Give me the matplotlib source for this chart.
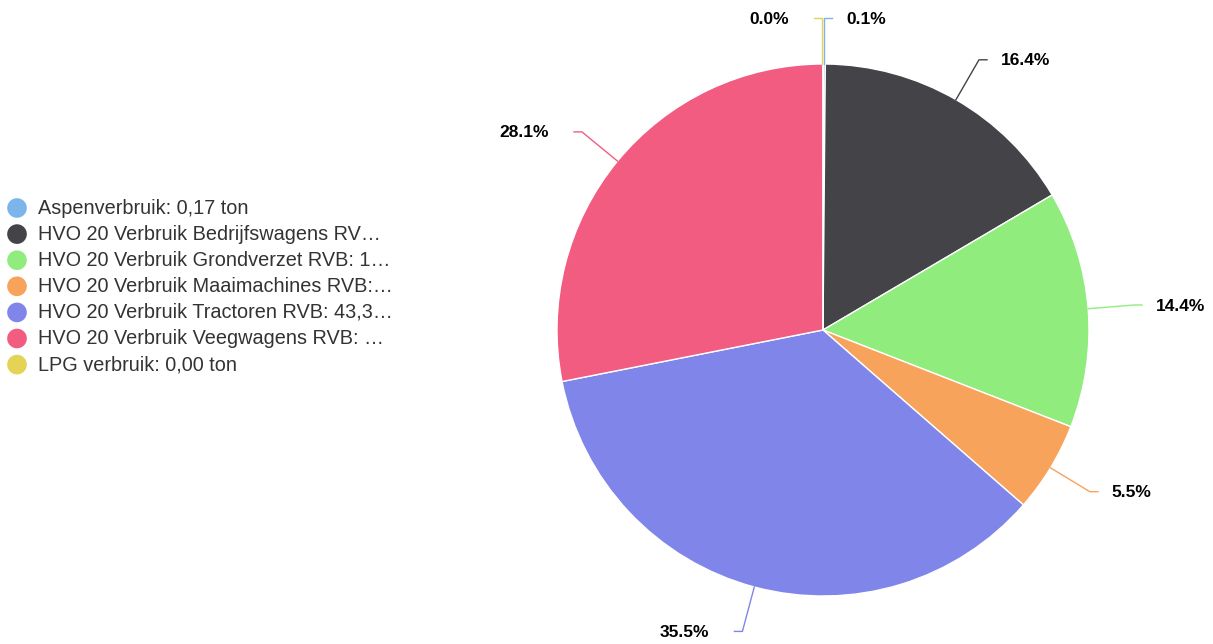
import numpy as np
import matplotlib
matplotlib.use("Agg")
import matplotlib.pyplot as plt

plt.rcParams["font.family"] = ["Liberation Sans", "DejaVu Sans"]

# data (ton), in clockwise order from the top
legend_labels = [
    "Aspenverbruik: 0,17 ton",
    "HVO 20 Verbruik Bedrijfswagens RV\u2026",
    "HVO 20 Verbruik Grondverzet RVB: 1\u2026",
    "HVO 20 Verbruik Maaimachines RVB:\u2026",
    "HVO 20 Verbruik Tractoren RVB: 43,3\u2026",
    "HVO 20 Verbruik Veegwagens RVB: \u2026",
    "LPG verbruik: 0,00 ton",
]
values = [0.17, 20.0, 17.57, 6.71, 43.3, 34.3, 0.0]
colors = ["#7cb5ec", "#434348", "#90ed7d", "#f7a35c", "#8085e9", "#f15c80", "#e4d354"]

W, H = 1213, 644
fig = plt.figure(figsize=(W / 100, H / 100), dpi=100)
ax = fig.add_axes([0, 0, 1, 1])

cx, cy, r = 823, H - 330, 266
ax.pie(values, colors=colors, startangle=90, counterclock=False,
       center=(cx, cy), radius=r,
       wedgeprops=dict(edgecolor="white", linewidth=1))
ax.set_xlim(0, W)
ax.set_ylim(0, H)
ax.set_aspect("equal")
ax.axis("off")

# data labels with connectors
total = sum(values)
cum = 0.0
for v, c in zip(values, colors):
    frac = v / total
    mid = cum + frac / 2
    cum += frac
    ang = mid * 2 * np.pi  # clockwise from top
    sx, sy = np.sin(ang), np.cos(ang)
    right = mid < 0.5
    if frac < 0.005:
        # tiny slices: go straight up
        ex, ey = cx + (1 if right else -1), cy + r
        bx, by = ex, cy + r + 46
    else:
        ex, ey = cx + r * sx, cy + r * sy
        bx, by = cx + (r + 46) * sx, cy + (r + 46) * sy
    stub = 8 if right else -8
    ax.plot([ex, bx, bx + stub], [ey, by, by], color=c, lw=1)
    pct = "%.1f%%" % (frac * 100)
    if right:
        ax.text(bx + 22, by - 1, pct, ha="left", va="center",
                fontsize=12.5, fontweight="bold", color="black")
    else:
        ax.text(bx - 33, by - 1, pct, ha="right", va="center",
                fontsize=12.5, fontweight="bold", color="black")

# legend
for i, (lab, c) in enumerate(zip(legend_labels, colors)):
    y = H - (208 + i * 26.1)
    ax.scatter([17], [y], s=200, color=c, edgecolors="none")
    ax.text(38, y, lab, ha="left", va="center", fontsize=14.3, color="#333333")

fig.savefig("out.png", dpi=100)
